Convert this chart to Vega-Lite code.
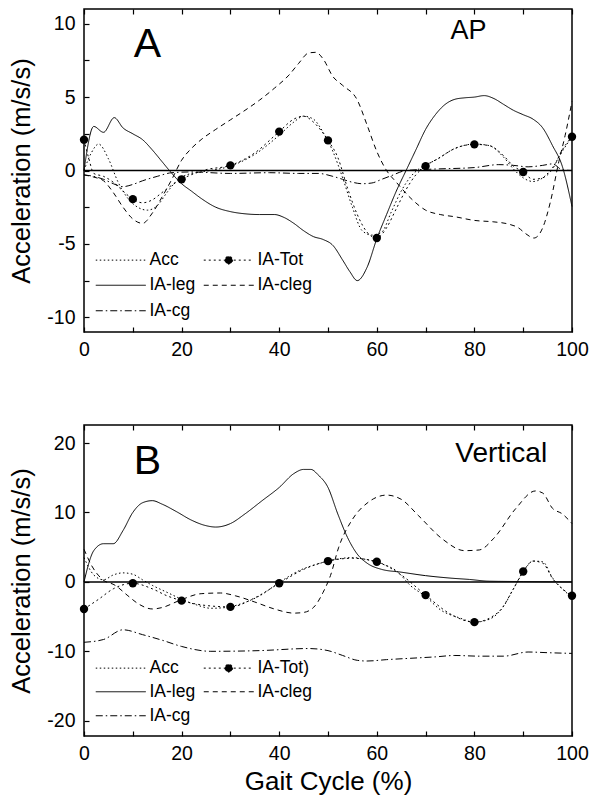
{
  "$schema": "https://vega.github.io/schema/vega-lite/v6.json",
  "padding": {"left": 9, "top": 7, "right": 5, "bottom": 5},
  "spacing": 63,
  "config": {
    "font": "Liberation Sans",
    "view": {"stroke": "black", "strokeWidth": 1.5},
    "axis": {"domain": false, "grid": false, "tickColor": "black", "tickSize": -5, "tickWidth": 1.2, "labelColor": "black", "labelFont": "Liberation Sans", "labelFontSize": 19.5, "titleColor": "black", "titleFont": "Liberation Sans", "titleFontWeight": "normal", "labelFlush": false, "labelOverlap": false},
    "legend": {"labelFont": "Liberation Sans", "labelColor": "black"}
  },
  "resolve": {"scale": {"x": "independent", "y": "independent", "strokeDash": "independent"}, "legend": {"strokeDash": "independent"}},
  "datasets": {
    "one": [{}],
    "A": [
      {"series":"Acc","x":0,"y":0.0},{"series":"Acc","x":1.5,"y":1.2},{"series":"Acc","x":3,"y":1.8},{"series":"Acc","x":5,"y":0.8},{"series":"Acc","x":7,"y":-0.8},{"series":"Acc","x":9,"y":-1.9},{"series":"Acc","x":11,"y":-2.5},{"series":"Acc","x":13,"y":-2.7},{"series":"Acc","x":15,"y":-2.4},{"series":"Acc","x":17,"y":-1.5},{"series":"Acc","x":19,"y":-0.7},{"series":"Acc","x":21,"y":-0.3},{"series":"Acc","x":25,"y":-0.05},{"series":"Acc","x":30,"y":0.3},{"series":"Acc","x":35,"y":1.1},{"series":"Acc","x":40,"y":2.4},{"series":"Acc","x":43,"y":3.3},{"series":"Acc","x":45,"y":3.7},{"series":"Acc","x":47,"y":3.5},{"series":"Acc","x":49,"y":2.6},{"series":"Acc","x":51,"y":1.3},{"series":"Acc","x":53,"y":-0.5},{"series":"Acc","x":55,"y":-2.5},{"series":"Acc","x":57,"y":-4.1},{"series":"Acc","x":59,"y":-4.4},{"series":"Acc","x":61,"y":-4.2},{"series":"Acc","x":63,"y":-2.8},{"series":"Acc","x":65,"y":-1.4},{"series":"Acc","x":67,"y":-0.4},{"series":"Acc","x":69,"y":0.2},{"series":"Acc","x":72,"y":0.7},{"series":"Acc","x":76,"y":1.5},{"series":"Acc","x":80,"y":1.8},{"series":"Acc","x":83,"y":1.7},{"series":"Acc","x":86,"y":0.9},{"series":"Acc","x":88,"y":0.1},{"series":"Acc","x":90,"y":-0.5},{"series":"Acc","x":92,"y":-0.75},{"series":"Acc","x":94,"y":-0.5},{"series":"Acc","x":96,"y":0.2},{"series":"Acc","x":98,"y":1.3},{"series":"Acc","x":100,"y":2.3},
      {"series":"IA-Tot","x":0,"y":2.1},{"series":"IA-Tot","x":1,"y":0.8},{"series":"IA-Tot","x":2,"y":-0.2},{"series":"IA-Tot","x":4,"y":-0.4},{"series":"IA-Tot","x":6,"y":-0.8},{"series":"IA-Tot","x":8,"y":-1.4},{"series":"IA-Tot","x":10,"y":-1.95},{"series":"IA-Tot","x":12,"y":-2.2},{"series":"IA-Tot","x":14,"y":-2.0},{"series":"IA-Tot","x":16,"y":-1.5},{"series":"IA-Tot","x":18,"y":-1.0},{"series":"IA-Tot","x":20,"y":-0.6},{"series":"IA-Tot","x":25,"y":0.05},{"series":"IA-Tot","x":30,"y":0.35},{"series":"IA-Tot","x":35,"y":1.2},{"series":"IA-Tot","x":40,"y":2.65},{"series":"IA-Tot","x":43,"y":3.5},{"series":"IA-Tot","x":45,"y":3.7},{"series":"IA-Tot","x":47,"y":3.3},{"series":"IA-Tot","x":50,"y":2.05},{"series":"IA-Tot","x":52,"y":0.9},{"series":"IA-Tot","x":54,"y":-1.2},{"series":"IA-Tot","x":56,"y":-3.0},{"series":"IA-Tot","x":58,"y":-4.2},{"series":"IA-Tot","x":60,"y":-4.6},{"series":"IA-Tot","x":62,"y":-3.9},{"series":"IA-Tot","x":64,"y":-2.6},{"series":"IA-Tot","x":66,"y":-1.3},{"series":"IA-Tot","x":68,"y":-0.3},{"series":"IA-Tot","x":70,"y":0.3},{"series":"IA-Tot","x":73,"y":0.9},{"series":"IA-Tot","x":76,"y":1.5},{"series":"IA-Tot","x":80,"y":1.78},{"series":"IA-Tot","x":83,"y":1.7},{"series":"IA-Tot","x":86,"y":1.0},{"series":"IA-Tot","x":88,"y":0.3},{"series":"IA-Tot","x":90,"y":-0.1},{"series":"IA-Tot","x":92,"y":-0.6},{"series":"IA-Tot","x":94,"y":-0.5},{"series":"IA-Tot","x":96,"y":0.1},{"series":"IA-Tot","x":98,"y":1.4},{"series":"IA-Tot","x":100,"y":2.3},
      {"series":"IA-leg","x":0,"y":0},{"series":"IA-leg","x":2,"y":3.0},{"series":"IA-leg","x":4,"y":2.6},{"series":"IA-leg","x":6.2,"y":3.6},{"series":"IA-leg","x":8,"y":2.9},{"series":"IA-leg","x":10,"y":2.5},{"series":"IA-leg","x":12,"y":2.1},{"series":"IA-leg","x":14,"y":1.4},{"series":"IA-leg","x":16,"y":0.6},{"series":"IA-leg","x":17.5,"y":0},{"series":"IA-leg","x":20,"y":-0.9},{"series":"IA-leg","x":22,"y":-1.4},{"series":"IA-leg","x":24,"y":-1.9},{"series":"IA-leg","x":27,"y":-2.5},{"series":"IA-leg","x":30,"y":-2.8},{"series":"IA-leg","x":33,"y":-2.95},{"series":"IA-leg","x":36,"y":-3.0},{"series":"IA-leg","x":39,"y":-3.0},{"series":"IA-leg","x":41,"y":-3.2},{"series":"IA-leg","x":43,"y":-3.6},{"series":"IA-leg","x":45,"y":-4.1},{"series":"IA-leg","x":47,"y":-4.5},{"series":"IA-leg","x":49,"y":-4.7},{"series":"IA-leg","x":51,"y":-5.1},{"series":"IA-leg","x":53,"y":-6.1},{"series":"IA-leg","x":54.5,"y":-6.9},{"series":"IA-leg","x":56,"y":-7.5},{"series":"IA-leg","x":58,"y":-6.6},{"series":"IA-leg","x":60,"y":-4.65},{"series":"IA-leg","x":62,"y":-3.0},{"series":"IA-leg","x":64,"y":-1.4},{"series":"IA-leg","x":66,"y":0},{"series":"IA-leg","x":68,"y":1.4},{"series":"IA-leg","x":70,"y":2.8},{"series":"IA-leg","x":72,"y":3.8},{"series":"IA-leg","x":74,"y":4.5},{"series":"IA-leg","x":76,"y":4.85},{"series":"IA-leg","x":78,"y":4.95},{"series":"IA-leg","x":80,"y":5.0},{"series":"IA-leg","x":82,"y":5.1},{"series":"IA-leg","x":84,"y":4.9},{"series":"IA-leg","x":86,"y":4.5},{"series":"IA-leg","x":88,"y":4.1},{"series":"IA-leg","x":90,"y":3.8},{"series":"IA-leg","x":92,"y":3.5},{"series":"IA-leg","x":94,"y":2.9},{"series":"IA-leg","x":96,"y":1.7},{"series":"IA-leg","x":98,"y":0.3},{"series":"IA-leg","x":100,"y":-2.45},
      {"series":"IA-cleg","x":0,"y":-0.3},{"series":"IA-cleg","x":2,"y":-0.45},{"series":"IA-cleg","x":4,"y":-0.7},{"series":"IA-cleg","x":6,"y":-1.5},{"series":"IA-cleg","x":8,"y":-2.5},{"series":"IA-cleg","x":10,"y":-3.3},{"series":"IA-cleg","x":12,"y":-3.6},{"series":"IA-cleg","x":14,"y":-2.9},{"series":"IA-cleg","x":16,"y":-1.8},{"series":"IA-cleg","x":18,"y":-0.6},{"series":"IA-cleg","x":20,"y":0.7},{"series":"IA-cleg","x":22,"y":1.5},{"series":"IA-cleg","x":24,"y":2.1},{"series":"IA-cleg","x":27,"y":2.8},{"series":"IA-cleg","x":30,"y":3.45},{"series":"IA-cleg","x":33,"y":4.1},{"series":"IA-cleg","x":36,"y":4.8},{"series":"IA-cleg","x":39,"y":5.6},{"series":"IA-cleg","x":42,"y":6.5},{"series":"IA-cleg","x":44,"y":7.3},{"series":"IA-cleg","x":46,"y":8.0},{"series":"IA-cleg","x":47.5,"y":8.05},{"series":"IA-cleg","x":49,"y":7.6},{"series":"IA-cleg","x":51,"y":6.4},{"series":"IA-cleg","x":53,"y":5.8},{"series":"IA-cleg","x":56,"y":4.8},{"series":"IA-cleg","x":58,"y":3.1},{"series":"IA-cleg","x":60,"y":1.3},{"series":"IA-cleg","x":62,"y":0.0},{"series":"IA-cleg","x":64,"y":-0.8},{"series":"IA-cleg","x":67,"y":-1.9},{"series":"IA-cleg","x":70,"y":-2.7},{"series":"IA-cleg","x":73,"y":-3.0},{"series":"IA-cleg","x":76,"y":-3.15},{"series":"IA-cleg","x":80,"y":-3.4},{"series":"IA-cleg","x":84,"y":-3.5},{"series":"IA-cleg","x":87,"y":-3.65},{"series":"IA-cleg","x":89,"y":-3.9},{"series":"IA-cleg","x":90.5,"y":-4.3},{"series":"IA-cleg","x":92.2,"y":-4.6},{"series":"IA-cleg","x":94,"y":-3.9},{"series":"IA-cleg","x":95.6,"y":-2.1},{"series":"IA-cleg","x":97.3,"y":0.6},{"series":"IA-cleg","x":98.6,"y":2.4},{"series":"IA-cleg","x":100,"y":4.7},
      {"series":"IA-cg","x":0,"y":-0.3},{"series":"IA-cg","x":2,"y":-0.4},{"series":"IA-cg","x":4,"y":-0.6},{"series":"IA-cg","x":6,"y":-0.9},{"series":"IA-cg","x":8,"y":-1.1},{"series":"IA-cg","x":10,"y":-0.95},{"series":"IA-cg","x":12,"y":-0.7},{"series":"IA-cg","x":15,"y":-0.4},{"series":"IA-cg","x":18,"y":-0.15},{"series":"IA-cg","x":22,"y":-0.1},{"series":"IA-cg","x":30,"y":-0.2},{"series":"IA-cg","x":38,"y":-0.15},{"series":"IA-cg","x":44,"y":-0.2},{"series":"IA-cg","x":48,"y":-0.2},{"series":"IA-cg","x":51,"y":-0.4},{"series":"IA-cg","x":53,"y":-0.6},{"series":"IA-cg","x":55,"y":-0.8},{"series":"IA-cg","x":57,"y":-0.9},{"series":"IA-cg","x":59,"y":-0.85},{"series":"IA-cg","x":61,"y":-0.6},{"series":"IA-cg","x":63,"y":-0.35},{"series":"IA-cg","x":66,"y":0.0},{"series":"IA-cg","x":72,"y":0.1},{"series":"IA-cg","x":80,"y":0.2},{"series":"IA-cg","x":85,"y":0.4},{"series":"IA-cg","x":88,"y":0.35},{"series":"IA-cg","x":91,"y":0.25},{"series":"IA-cg","x":94,"y":0.35},{"series":"IA-cg","x":96,"y":0.45},{"series":"IA-cg","x":98,"y":0.05},{"series":"IA-cg","x":100,"y":0}
    ],
    "B": [
      {"series":"Acc","x":0,"y":3.5},{"series":"Acc","x":2,"y":1.0},{"series":"Acc","x":4,"y":0.3},{"series":"Acc","x":6,"y":1.0},{"series":"Acc","x":8,"y":1.3},{"series":"Acc","x":10,"y":1.1},{"series":"Acc","x":12,"y":0.3},{"series":"Acc","x":14,"y":-0.5},{"series":"Acc","x":17,"y":-1.5},{"series":"Acc","x":20,"y":-2.5},{"series":"Acc","x":23,"y":-3.3},{"series":"Acc","x":26,"y":-3.8},{"series":"Acc","x":29,"y":-3.7},{"series":"Acc","x":32,"y":-3.2},{"series":"Acc","x":36,"y":-2.0},{"series":"Acc","x":40,"y":-0.1},{"series":"Acc","x":44,"y":1.6},{"series":"Acc","x":48,"y":2.6},{"series":"Acc","x":52,"y":3.3},{"series":"Acc","x":55,"y":3.5},{"series":"Acc","x":58,"y":3.2},{"series":"Acc","x":61,"y":2.6},{"series":"Acc","x":64,"y":1.6},{"series":"Acc","x":67,"y":-0.6},{"series":"Acc","x":70,"y":-2.1},{"series":"Acc","x":73,"y":-4.0},{"series":"Acc","x":77,"y":-5.2},{"series":"Acc","x":80,"y":-5.8},{"series":"Acc","x":83,"y":-5.4},{"series":"Acc","x":86,"y":-3.5},{"series":"Acc","x":88,"y":-1.0},{"series":"Acc","x":90,"y":1.4},{"series":"Acc","x":92,"y":3.0},{"series":"Acc","x":94,"y":2.9},{"series":"Acc","x":96,"y":0.6},{"series":"Acc","x":98,"y":-1.0},{"series":"Acc","x":100,"y":-2.2},
      {"series":"IA-Tot","x":0,"y":-3.9},{"series":"IA-Tot","x":3,"y":-2.5},{"series":"IA-Tot","x":6,"y":-1.0},{"series":"IA-Tot","x":10,"y":-0.2},{"series":"IA-Tot","x":14,"y":-1.0},{"series":"IA-Tot","x":17,"y":-2.0},{"series":"IA-Tot","x":20,"y":-2.7},{"series":"IA-Tot","x":25,"y":-3.4},{"series":"IA-Tot","x":30,"y":-3.6},{"series":"IA-Tot","x":35,"y":-2.3},{"series":"IA-Tot","x":40,"y":-0.2},{"series":"IA-Tot","x":45,"y":1.8},{"series":"IA-Tot","x":50,"y":3.0},{"series":"IA-Tot","x":55,"y":3.4},{"series":"IA-Tot","x":60,"y":2.9},{"series":"IA-Tot","x":65,"y":1.0},{"series":"IA-Tot","x":70,"y":-1.9},{"series":"IA-Tot","x":75,"y":-4.6},{"series":"IA-Tot","x":80,"y":-5.8},{"series":"IA-Tot","x":85,"y":-4.3},{"series":"IA-Tot","x":88,"y":-1.0},{"series":"IA-Tot","x":90,"y":1.5},{"series":"IA-Tot","x":92,"y":3.0},{"series":"IA-Tot","x":94,"y":2.7},{"series":"IA-Tot","x":96,"y":0.5},{"series":"IA-Tot","x":100,"y":-2.0},
      {"series":"IA-leg","x":0,"y":0},{"series":"IA-leg","x":2,"y":4.5},{"series":"IA-leg","x":4,"y":5.5},{"series":"IA-leg","x":6,"y":5.5},{"series":"IA-leg","x":8,"y":7.4},{"series":"IA-leg","x":10,"y":10.0},{"series":"IA-leg","x":12,"y":11.4},{"series":"IA-leg","x":14,"y":11.7},{"series":"IA-leg","x":16,"y":11.2},{"series":"IA-leg","x":19,"y":10.1},{"series":"IA-leg","x":22,"y":8.9},{"series":"IA-leg","x":25,"y":8.1},{"series":"IA-leg","x":27,"y":7.9},{"series":"IA-leg","x":30,"y":8.4},{"series":"IA-leg","x":33,"y":9.8},{"series":"IA-leg","x":36.5,"y":11.7},{"series":"IA-leg","x":40,"y":13.6},{"series":"IA-leg","x":43,"y":15.6},{"series":"IA-leg","x":45,"y":16.2},{"series":"IA-leg","x":46.5,"y":16.2},{"series":"IA-leg","x":48,"y":15.4},{"series":"IA-leg","x":50,"y":13.6},{"series":"IA-leg","x":52,"y":9.8},{"series":"IA-leg","x":54,"y":6.4},{"series":"IA-leg","x":56,"y":4.0},{"series":"IA-leg","x":58,"y":2.7},{"series":"IA-leg","x":61,"y":1.8},{"series":"IA-leg","x":65,"y":1.4},{"series":"IA-leg","x":70,"y":0.9},{"series":"IA-leg","x":75,"y":0.55},{"series":"IA-leg","x":79,"y":0.35},{"series":"IA-leg","x":83,"y":0.1},{"series":"IA-leg","x":90,"y":0.05},{"series":"IA-leg","x":100,"y":0},
      {"series":"IA-cleg","x":0,"y":4.7},{"series":"IA-cleg","x":1.6,"y":2.3},{"series":"IA-cleg","x":3.7,"y":0.4},{"series":"IA-cleg","x":6.4,"y":-0.5},{"series":"IA-cleg","x":9,"y":-2.0},{"series":"IA-cleg","x":11,"y":-3.1},{"series":"IA-cleg","x":14,"y":-3.9},{"series":"IA-cleg","x":16,"y":-3.7},{"series":"IA-cleg","x":19.5,"y":-2.7},{"series":"IA-cleg","x":24,"y":-1.7},{"series":"IA-cleg","x":28,"y":-1.6},{"series":"IA-cleg","x":31,"y":-2.0},{"series":"IA-cleg","x":35,"y":-2.9},{"series":"IA-cleg","x":39,"y":-3.9},{"series":"IA-cleg","x":43,"y":-4.5},{"series":"IA-cleg","x":45,"y":-4.4},{"series":"IA-cleg","x":47.4,"y":-3.4},{"series":"IA-cleg","x":49,"y":-1.5},{"series":"IA-cleg","x":50.5,"y":0.9},{"series":"IA-cleg","x":52.2,"y":5.0},{"series":"IA-cleg","x":55,"y":9.0},{"series":"IA-cleg","x":58.3,"y":11.5},{"series":"IA-cleg","x":62,"y":12.5},{"series":"IA-cleg","x":65,"y":11.9},{"series":"IA-cleg","x":68.6,"y":9.5},{"series":"IA-cleg","x":73.4,"y":6.2},{"series":"IA-cleg","x":78,"y":4.5},{"series":"IA-cleg","x":81,"y":4.6},{"series":"IA-cleg","x":84,"y":6.3},{"series":"IA-cleg","x":88.4,"y":10.5},{"series":"IA-cleg","x":92.5,"y":13.1},{"series":"IA-cleg","x":94,"y":12.8},{"series":"IA-cleg","x":96,"y":10.6},{"series":"IA-cleg","x":98,"y":9.8},{"series":"IA-cleg","x":100,"y":8.4},
      {"series":"IA-cg","x":0,"y":-8.7},{"series":"IA-cg","x":4,"y":-8.3},{"series":"IA-cg","x":8,"y":-6.9},{"series":"IA-cg","x":12,"y":-7.6},{"series":"IA-cg","x":16,"y":-8.4},{"series":"IA-cg","x":20,"y":-9.3},{"series":"IA-cg","x":26,"y":-10.0},{"series":"IA-cg","x":36,"y":-9.9},{"series":"IA-cg","x":46,"y":-9.6},{"series":"IA-cg","x":50,"y":-9.9},{"series":"IA-cg","x":53,"y":-10.6},{"series":"IA-cg","x":56,"y":-11.3},{"series":"IA-cg","x":58,"y":-11.4},{"series":"IA-cg","x":62,"y":-11.2},{"series":"IA-cg","x":67,"y":-11.0},{"series":"IA-cg","x":72,"y":-10.8},{"series":"IA-cg","x":76,"y":-10.6},{"series":"IA-cg","x":81,"y":-10.7},{"series":"IA-cg","x":86,"y":-10.7},{"series":"IA-cg","x":91,"y":-10.1},{"series":"IA-cg","x":95,"y":-10.2},{"series":"IA-cg","x":100,"y":-10.3}
    ]
  },
  "vconcat": [
    {
      "width": 488, "height": 323,
      "data": {"name": "A"},
      "resolve": {"axis": {"x": "independent"}},
      "layer": [
        {"data": {"name": "one"}, "mark": {"type": "rule", "strokeWidth": 1.5, "color": "black"}, "encoding": {"y": {"datum": 0, "type": "quantitative"}}},
        {"mark": {"type": "line", "strokeWidth": 1, "color": "black", "interpolate": "monotone"},
         "encoding": {
           "x": {"field": "x", "type": "quantitative", "scale": {"domain": [0, 100], "nice": false, "zero": false},
                 "axis": {"orient": "bottom", "title": null, "values": [0,10,20,30,40,50,60,70,80,90,100], "labelExpr": "datum.value % 20 === 0 ? datum.label : ''", "labelPadding": 13}},
           "y": {"field": "y", "type": "quantitative", "scale": {"domain": [-11, 11], "nice": false, "zero": false},
                 "axis": {"title": "Acceleration (m/s/s)", "titleFontSize": 25.5, "titlePadding": 12, "labelPadding": 14, "values": [-10,-7.5,-5,-2.5,0,2.5,5,7.5,10], "labelExpr": "datum.value % 5 === 0 ? '' + datum.value : ''"}},
           "strokeDash": {"field": "series", "type": "nominal",
             "scale": {"domain": ["Acc", "IA-leg", "IA-cg", "IA-Tot", "IA-cleg"], "range": [[1.5, 2.5], [1, 0], [7, 3, 1.5, 3], [2, 3], [5, 4]]},
             "legend": {"orient": "none", "legendX": 16, "legendY": 242, "columns": 2, "title": null, "padding": 0,
               "symbolType": "M-3.125,0H3.125", "symbolSize": 256, "symbolStrokeWidth": 1, "symbolStrokeColor": "black", "symbolOffset": 12,
               "labelOffset": 20, "labelFontSize": 17.5, "rowPadding": 6.5, "columnPadding": 5,
               "encode": {"symbols": {"update": {
                 "shape": {"signal": "datum.value === 'IA-Tot' ? 'M-3.125,0H3.125M0.5,0L0.354,0.354L0,0.5L-0.354,0.354L-0.5,0L-0.354,-0.354L0,-0.5L0.354,-0.354Z' : 'M-3.125,0H3.125'"},
                 "stroke": {"value": "black"}, "strokeWidth": {"value": 1}, "opacity": {"value": 1},
                 "fill": {"signal": "datum.value === 'IA-Tot' ? 'black' : 'transparent'"}}}}}}
         }},
        {"transform": [{"filter": "datum.series === 'IA-Tot' && datum.x % 10 === 0"}],
         "mark": {"type": "point", "filled": true, "color": "black", "size": 70, "opacity": 1},
         "encoding": {
           "x": {"field": "x", "type": "quantitative", "axis": {"orient": "top", "labels": false, "title": null, "values": [0,10,20,30,40,50,60,70,80,90,100]}},
           "y": {"field": "y", "type": "quantitative"}}},
        {"data": {"name": "one"}, "mark": {"type": "text", "fontSize": 41, "fontWeight": "normal", "align": "center", "baseline": "alphabetic", "fill": "black"},
         "encoding": {"x": {"datum": 13, "type": "quantitative", "axis": null}, "y": {"datum": 7.76, "type": "quantitative"}, "text": {"value": "A"}}},
        {"data": {"name": "one"}, "mark": {"type": "text", "fontSize": 27, "fontWeight": "normal", "align": "center", "baseline": "alphabetic", "fill": "black"},
         "encoding": {"x": {"datum": 78.8, "type": "quantitative", "axis": null}, "y": {"datum": 8.98, "type": "quantitative"}, "text": {"value": "AP"}}}
      ]
    },
    {
      "width": 488, "height": 311,
      "data": {"name": "B"},
      "resolve": {"axis": {"x": "independent"}},
      "layer": [
        {"data": {"name": "one"}, "mark": {"type": "rule", "strokeWidth": 1.5, "color": "black"}, "encoding": {"y": {"datum": 0, "type": "quantitative"}}},
        {"mark": {"type": "line", "strokeWidth": 1, "color": "black", "interpolate": "monotone"},
         "encoding": {
           "x": {"field": "x", "type": "quantitative", "scale": {"domain": [0, 100], "nice": false, "zero": false},
                 "axis": {"orient": "bottom", "title": "Gait Cycle (%)", "titleFontSize": 26, "titlePadding": 6, "values": [0,10,20,30,40,50,60,70,80,90,100], "labelExpr": "datum.value % 20 === 0 ? datum.label : ''", "labelPadding": 13}},
           "y": {"field": "y", "type": "quantitative", "scale": {"domain": [-22.2, 22.6], "nice": false, "zero": false},
                 "axis": {"title": "Acceleration (m/s/s)", "titleFontSize": 25.5, "titlePadding": 12, "labelPadding": 14, "values": [-20,-15,-10,-5,0,5,10,15,20], "labelExpr": "datum.value % 10 === 0 ? '' + datum.value : ''"}},
           "strokeDash": {"field": "series", "type": "nominal",
             "scale": {"domain": ["Acc", "IA-leg", "IA-cg", "IA-Tot", "IA-cleg"], "range": [[1.5, 2.5], [1, 0], [7, 3, 1.5, 3], [2, 3], [5, 4]]},
             "legend": {"orient": "none", "legendX": 16, "legendY": 234, "columns": 2, "title": null, "padding": 0,
               "symbolType": "M-3.125,0H3.125", "symbolSize": 256, "symbolStrokeWidth": 1, "symbolStrokeColor": "black", "symbolOffset": 12,
               "labelOffset": 20, "labelFontSize": 17.5, "rowPadding": 5, "columnPadding": 5,
               "labelExpr": "datum.label === 'IA-Tot' ? 'IA-Tot)' : datum.label",
               "encode": {"symbols": {"update": {
                 "shape": {"signal": "datum.value === 'IA-Tot' ? 'M-3.125,0H3.125M0.5,0L0.354,0.354L0,0.5L-0.354,0.354L-0.5,0L-0.354,-0.354L0,-0.5L0.354,-0.354Z' : 'M-3.125,0H3.125'"},
                 "stroke": {"value": "black"}, "strokeWidth": {"value": 1}, "opacity": {"value": 1},
                 "fill": {"signal": "datum.value === 'IA-Tot' ? 'black' : 'transparent'"}}}}}}
         }},
        {"transform": [{"filter": "datum.series === 'IA-Tot' && datum.x % 10 === 0"}],
         "mark": {"type": "point", "filled": true, "color": "black", "size": 70, "opacity": 1},
         "encoding": {
           "x": {"field": "x", "type": "quantitative", "axis": {"orient": "top", "labels": false, "title": null, "values": [0,10,20,30,40,50,60,70,80,90,100]}},
           "y": {"field": "y", "type": "quantitative"}}},
        {"data": {"name": "one"}, "mark": {"type": "text", "fontSize": 41, "fontWeight": "normal", "align": "center", "baseline": "alphabetic", "fill": "black"},
         "encoding": {"x": {"datum": 13, "type": "quantitative", "axis": null}, "y": {"datum": 15.5, "type": "quantitative"}, "text": {"value": "B"}}},
        {"data": {"name": "one"}, "mark": {"type": "text", "fontSize": 28, "fontWeight": "normal", "align": "center", "baseline": "alphabetic", "fill": "black"},
         "encoding": {"x": {"datum": 85.5, "type": "quantitative", "axis": null}, "y": {"datum": 17.3, "type": "quantitative"}, "text": {"value": "Vertical"}}}
      ]
    }
  ]
}
